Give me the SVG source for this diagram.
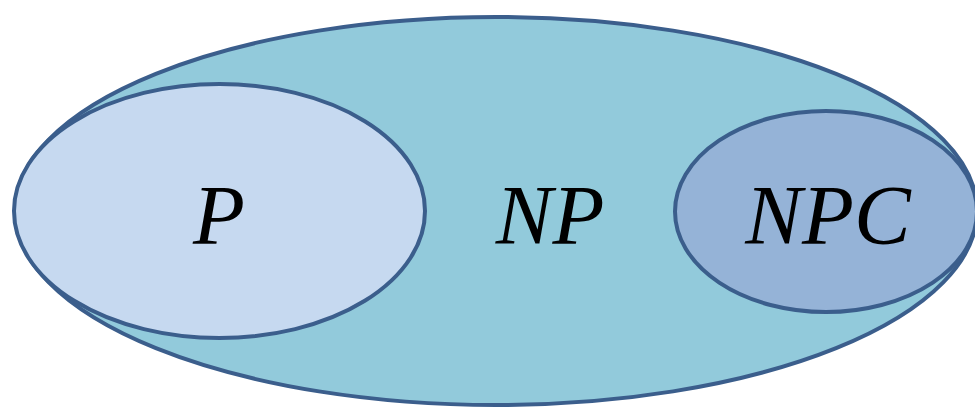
<svg xmlns="http://www.w3.org/2000/svg" width="975" height="407" viewBox="0 0 975 407">
<style>
.set{stroke:#3b5e8c;stroke-width:4}
.lbl{font-family:"Liberation Serif","Times New Roman",serif;font-style:italic;font-size:85px;fill:#000;text-anchor:middle}
</style>
<rect width="975" height="407" fill="#fff"/>
<g id="np">
<ellipse class="set" cx="496" cy="211" rx="481" ry="194" fill="#92cadb"/>
<text class="lbl" x="550" y="244">NP</text>
</g>
<g id="p">
<ellipse class="set" cx="219.5" cy="211" rx="205.5" ry="127" fill="#c6d9f0"/>
<text class="lbl" x="219" y="244">P</text>
</g>
<g id="npc">
<ellipse class="set" cx="826" cy="211.5" rx="151" ry="100.5" fill="#95b3d7"/>
<text class="lbl" x="828" y="244">NPC</text>
</g>
<g id="connectors"/>
</svg>
